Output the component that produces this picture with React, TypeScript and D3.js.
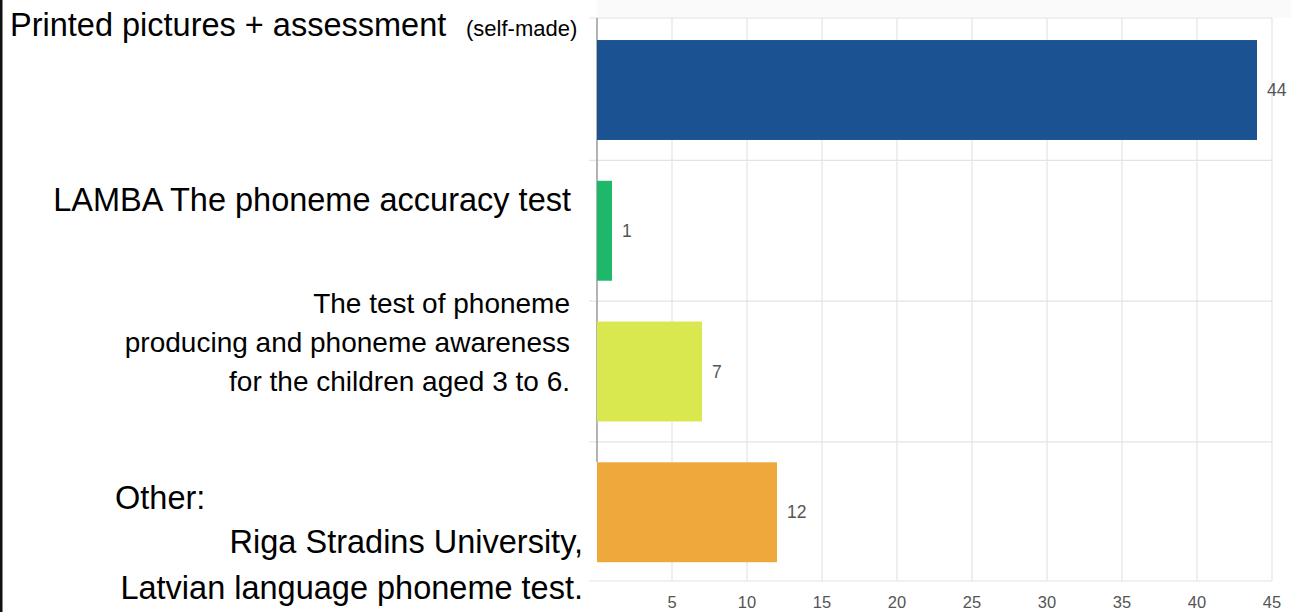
import React, { useEffect, useRef } from 'react';
import * as d3 from 'd3';

const categories = ['printed', 'lamba', 'producing', 'other'];
const counts = [44, 1, 7, 12];
const barColors = ['#1a5292', '#1db86a', '#d9e84f', '#efa83b'];
const xTicks = [5, 10, 15, 20, 25, 30, 35, 40, 45];

// label lines for each category, shown left of the bars
const labelLines = [
  ['Printed pictures + assessment', '(self-made)'],
  ['LAMBA The phoneme accuracy test'],
  ['The test of phoneme', 'producing and phoneme awareness', 'for the children aged 3 to 6.'],
  ['Other:', 'Riga Stradins University,', 'Latvian language phoneme test.']
];

const W = 1291;
const H = 612;

const App = () => {
  const ref = useRef<SVGSVGElement>(null);

  useEffect(() => {
    const svg = d3.select(ref.current);
    svg.selectAll('*').remove();

    const margin = { top: 18, right: 19, bottom: 31, left: 597 };

    const x = d3.scaleLinear().domain([0, 45]).range([margin.left, W - margin.right]);
    const y = d3
      .scaleBand<string>()
      .domain(categories)
      .range([margin.top, H - margin.bottom])
      .paddingInner(0.29)
      .paddingOuter(0.145)
      .align(0.54);

    svg.append('rect').attr('width', W).attr('height', H).attr('fill', '#fff');
    svg.append('rect').attr('x', margin.left).attr('y', 0).attr('width', W - margin.left).attr('height', margin.top).attr('fill', '#fafafa');

    const grid = svg.append('g').attr('stroke', '#e4e4e4').attr('stroke-width', 1.2);
    grid
      .selectAll('line.v')
      .data(xTicks)
      .enter()
      .append('line')
      .attr('x1', (d) => x(d))
      .attr('x2', (d) => x(d))
      .attr('y1', margin.top)
      .attr('y2', H - margin.bottom);

    const gap = y.step() - y.bandwidth();
    const hLines = [margin.top, ...categories.slice(1).map((c) => (y(c) as number) - gap / 2), H - margin.bottom];
    grid
      .selectAll('line.h')
      .data(hLines)
      .enter()
      .append('line')
      .attr('x1', margin.left - 8)
      .attr('x2', x(45))
      .attr('y1', (d) => d)
      .attr('y2', (d) => d);

    // left axis line (covered by pasted label at the bottom)
    svg
      .append('line')
      .attr('x1', x(0))
      .attr('x2', x(0))
      .attr('y1', margin.top)
      .attr('y2', y('other') as number)
      .attr('stroke', '#9a9a9a')
      .attr('stroke-width', 1.5);

    svg
      .append('g')
      .selectAll('rect')
      .data(counts)
      .enter()
      .append('rect')
      .attr('x', x(0))
      .attr('y', (d, i) => y(categories[i]) as number)
      .attr('width', (d) => x(d) - x(0))
      .attr('height', y.bandwidth())
      .attr('fill', (d, i) => barColors[i]);

    svg
      .append('g')
      .selectAll('text')
      .data(counts)
      .enter()
      .append('text')
      .attr('x', (d) => x(d) + 10)
      .attr('y', (d, i) => (y(categories[i]) as number) + y.bandwidth() / 2 + 6)
      .attr('font-family', 'Arial, "Liberation Sans", sans-serif')
      .attr('font-size', 17.5)
      .attr('fill', '#555')
      .text((d) => d);

    svg
      .append('g')
      .selectAll('text')
      .data(xTicks)
      .enter()
      .append('text')
      .attr('x', (d) => x(d))
      .attr('y', H - 4)
      .attr('text-anchor', 'middle')
      .attr('font-family', 'Arial, "Liberation Sans", sans-serif')
      .attr('font-size', 16.5)
      .attr('fill', '#555')
      .text((d) => d);

    // hand-placed category labels (x position, dy from band centre)
    const labelLayout = [
      [
        { x: 10, dy: -54, size: 32.5, anchor: 'start' },
        { x: 466, dy: -54, size: 22, anchor: 'start' }
      ],
      [{ x: 571, dy: -20, size: 32.5, anchor: 'end' }],
      [
        { x: 570, dy: -59, size: 28, anchor: 'end' },
        { x: 570, dy: -20, size: 28, anchor: 'end' },
        { x: 570, dy: 19, size: 28, anchor: 'end' }
      ],
      [
        { x: 115, dy: -3, size: 32.5, anchor: 'start' },
        { x: 583, dy: 41, size: 32.5, anchor: 'end' },
        { x: 583, dy: 87, size: 32.5, anchor: 'end' }
      ]
    ];

    const labels = svg.append('g').attr('font-family', 'Arial, "Liberation Sans", sans-serif').attr('fill', '#000');
    labelLines.forEach((lines, i) => {
      const cy = (y(categories[i]) as number) + y.bandwidth() / 2;
      lines.forEach((line, j) => {
        const l = labelLayout[i][j];
        labels
          .append('text')
          .attr('x', l.x)
          .attr('y', cy + l.dy)
          .attr('font-size', l.size)
          .attr('text-anchor', l.anchor)
          .text(line);
      });
    });

    svg.append('rect').attr('x', 0).attr('y', 0).attr('width', 2.5).attr('height', H).attr('fill', '#111');
  }, []);

  return (
    <div style={{ position: 'absolute', left: 0, top: 0 }}>
      <svg ref={ref} width={W} height={H} style={{ display: 'block' }} />
    </div>
  );
};

export default App;
